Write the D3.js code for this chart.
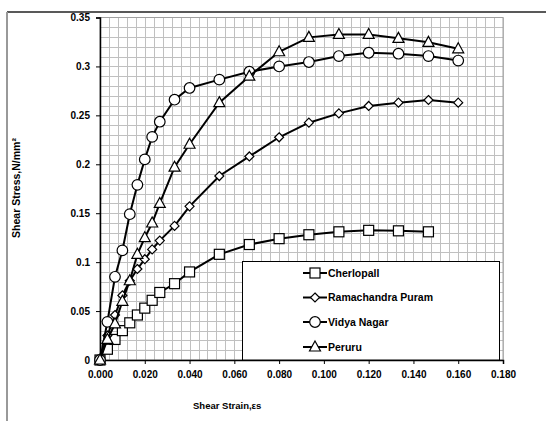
<!DOCTYPE html>
<html>
<head>
<meta charset="utf-8">
<script src="https://cdn.jsdelivr.net/npm/d3@7"></script>
<style>
  html, body { margin: 0; padding: 0; background: #fff; }
  svg { display: block; }
  text { font-family: "Liberation Sans", Arial, sans-serif; font-weight: bold; fill: #000; }
</style>
</head>
<body>
<svg id="chart" width="546" height="421"></svg>
<script>
// Shear strain readings (common to all four soils)
const strain = [0, 0.0033, 0.0067, 0.0100, 0.0133, 0.0167, 0.0200, 0.0233, 0.0267,
  0.0333, 0.0400, 0.0533, 0.0667, 0.0800, 0.0933, 0.1067, 0.1200, 0.1333, 0.1467, 0.1600];

// Shear stress (N/mm²) per location
const cherlopall = [0, 0.011, 0.021, 0.030, 0.038, 0.046, 0.053, 0.061, 0.069,
  0.078, 0.090, 0.108, 0.118, 0.124, 0.128, 0.131, 0.1325, 0.132, 0.131];
const ramachandraPuram = [0, 0.025, 0.046, 0.066, 0.081, 0.093, 0.103, 0.113, 0.122,
  0.137, 0.157, 0.188, 0.208, 0.2276, 0.2425, 0.252, 0.2596, 0.263, 0.2657, 0.263];
const vidyaNagar = [0, 0.039, 0.085, 0.112, 0.149, 0.179, 0.205, 0.228, 0.2435,
  0.266, 0.278, 0.2865, 0.2946, 0.300, 0.3045, 0.3106, 0.314, 0.313, 0.3106, 0.306];
const peruru = [0, 0.021, 0.037, 0.060, 0.081, 0.108, 0.125, 0.140, 0.160,
  0.197, 0.2205, 0.263, 0.290, 0.315, 0.3297, 0.3327, 0.3327, 0.3287, 0.3246, 0.318];

const seriesNames = ["Cherlopall", "Ramachandra Puram", "Vidya Nagar", "Peruru"];
const seriesValues = [cherlopall, ramachandraPuram, vidyaNagar, peruru];
const seriesMarkers = ["square", "diamond", "circle", "triangle"];

const xTicks = [0, 0.02, 0.04, 0.06, 0.08, 0.10, 0.12, 0.14, 0.16, 0.18];
const yTicks = [0, 0.05, 0.10, 0.15, 0.20, 0.25, 0.30, 0.35];
const xTickLabels = ["0.000", "0.020", "0.040", "0.060", "0.080", "0.100", "0.120", "0.140", "0.160", "0.180"];
const yTickLabels = ["0", "0.05", "0.1", "0.15", "0.2", "0.25", "0.3", "0.35"];
const xMinorStep = 0.004, yMinorStep = 0.01;

const svg = d3.select("#chart");
const plot = { left: 100, right: 503, top: 17.5, bottom: 360 };

const x = d3.scaleLinear().domain([0, 0.18]).range([plot.left, plot.right]);
const y = d3.scaleLinear().domain([0, 0.35]).range([plot.bottom, plot.top]);

// outer chart frame
svg.append("line").attr("x1", 7).attr("x2", 546).attr("y1", 12).attr("y2", 12)
  .attr("stroke", "#222").attr("stroke-width", 1.5);
svg.append("line").attr("x1", 7).attr("x2", 7).attr("y1", 12).attr("y2", 421)
  .attr("stroke", "#999").attr("stroke-width", 2);

// minor grid
const grid = svg.append("g").attr("stroke", "#c0c0c0").attr("stroke-width", 1);
d3.range(0, 0.18 + 1e-9, xMinorStep).forEach(v => {
  const px = Math.round(x(v)) + 0.5;
  grid.append("line").attr("x1", px).attr("x2", px).attr("y1", plot.top).attr("y2", plot.bottom);
});
d3.range(0, 0.35 + 1e-9, yMinorStep).forEach(v => {
  const py = Math.round(y(v)) + 0.5;
  grid.append("line").attr("x1", plot.left).attr("x2", plot.right).attr("y1", py).attr("y2", py);
});
svg.append("rect").attr("x", plot.left).attr("y", plot.top)
  .attr("width", plot.right - plot.left).attr("height", plot.bottom - plot.top)
  .attr("fill", "none").attr("stroke", "#a0a0a0");

// axes
const xAxis = d3.axisBottom(x).tickValues(xTicks).tickSize(4).tickPadding(5)
  .tickFormat((d, i) => xTickLabels[i]);
const yAxis = d3.axisLeft(y).tickValues(yTicks).tickSize(4).tickPadding(6)
  .tickFormat((d, i) => yTickLabels[i]);

const gx = svg.append("g").attr("transform", `translate(0,${plot.bottom})`).call(xAxis);
const gy = svg.append("g").attr("transform", `translate(${plot.left},0)`).call(yAxis);
[gx, gy].forEach(g => {
  g.select(".domain").attr("stroke", "#000").attr("stroke-width", 1.5);
  g.selectAll(".tick line").attr("stroke", "#000");
  g.selectAll("text").style("font-size", "10px").style("font-weight", "bold")
    .style("font-family", "'Liberation Sans', Arial, sans-serif");
});
gx.selectAll("text").attr("dy", "0.85em");

// axis titles
svg.append("text").attr("x", 193).attr("y", 409).style("font-size", "9.5px")
  .text("Shear Strain,εs");
svg.append("text").attr("transform", "translate(20,188) rotate(-90)")
  .attr("text-anchor", "middle").style("font-size", "10.5px")
  .text("Shear Stress,N/mm²");

// marker drawing
function drawMarker(g, kind, cx, cy) {
  if (kind === "square") {
    g.append("rect").attr("x", cx - 5).attr("y", cy - 5).attr("width", 10).attr("height", 10);
  } else if (kind === "circle") {
    g.append("circle").attr("cx", cx).attr("cy", cy).attr("r", 5.3);
  } else if (kind === "diamond") {
    g.append("path").attr("d", `M${cx},${cy - 4.5}L${cx + 4.5},${cy}L${cx},${cy + 4.5}L${cx - 4.5},${cy}Z`);
  } else if (kind === "triangle") {
    g.append("path").attr("d", `M${cx},${cy - 6}L${cx + 5.5},${cy + 4}L${cx - 5.5},${cy + 4}Z`);
  }
}

const line = d3.line().x(d => x(d[0])).y(d => y(d[1]));

seriesValues.forEach((vals, i) => {
  const pts = vals.map((v, j) => [strain[j], v]);
  const g = svg.append("g");
  g.append("path").datum(pts).attr("d", line)
    .attr("fill", "none").attr("stroke", "#000").attr("stroke-width", 2);
  const mg = g.append("g").attr("fill", "#fff").attr("stroke", "#000").attr("stroke-width", 1.2);
  pts.forEach(p => drawMarker(mg, seriesMarkers[i], x(p[0]), y(p[1])));
});

// legend
const legend = svg.append("g");
legend.append("rect").attr("x", 242.5).attr("y", 261.5).attr("width", 257).attr("height", 98.5)
  .attr("fill", "#fff").attr("stroke", "#000").attr("stroke-width", 1);
const legendY = [273, 297.5, 322, 347];
seriesNames.forEach((name, i) => {
  const ly = legendY[i];
  const g = legend.append("g");
  g.append("line").attr("x1", 303).attr("x2", 327).attr("y1", ly).attr("y2", ly)
    .attr("stroke", "#000").attr("stroke-width", 2);
  const mg = g.append("g").attr("fill", "#fff").attr("stroke", "#000").attr("stroke-width", 1.2);
  drawMarker(mg, seriesMarkers[i], 315, ly);
  g.append("text").attr("x", 328).attr("y", ly).attr("dy", "0.35em")
    .style("font-size", "10.5px").text(name);
});
</script>
</body>
</html>
